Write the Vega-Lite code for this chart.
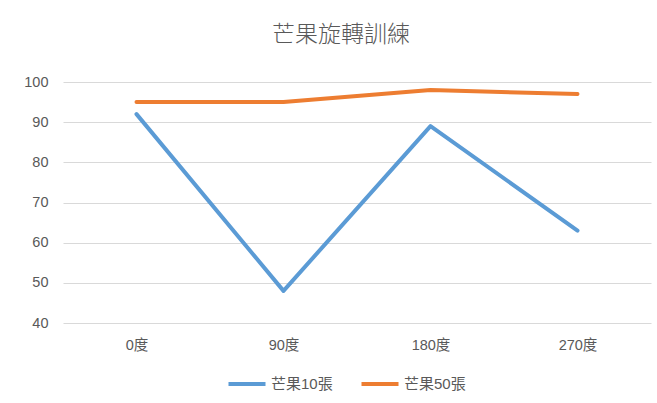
{
  "$schema": "https://vega.github.io/schema/vega-lite/v6.json",
  "width": 588,
  "height": 241,
  "autosize": {"type": "none"},
  "padding": {"left": 63, "top": 82, "right": 6, "bottom": 80},
  "background": "white",
  "title": {
    "text": "芒果旋轉訓練",
    "font": "Noto Sans CJK TC",
    "fontSize": 23,
    "fontWeight": 300,
    "color": "#595959",
    "offset": 27,
    "dx": -16
  },
  "data": {
    "values": [
      {"angle": "0度", "series": "芒果10張", "value": 92},
      {"angle": "90度", "series": "芒果10張", "value": 48},
      {"angle": "180度", "series": "芒果10張", "value": 89},
      {"angle": "270度", "series": "芒果10張", "value": 63},
      {"angle": "0度", "series": "芒果50張", "value": 95},
      {"angle": "90度", "series": "芒果50張", "value": 95},
      {"angle": "180度", "series": "芒果50張", "value": 98},
      {"angle": "270度", "series": "芒果50張", "value": 97}
    ]
  },
  "mark": {"type": "line", "strokeWidth": 4, "strokeCap": "round", "strokeJoin": "round"},
  "encoding": {
    "x": {
      "field": "angle",
      "type": "ordinal",
      "sort": ["0度", "90度", "180度", "270度"],
      "scale": {"type": "point", "padding": 0.5},
      "axis": {
        "title": null,
        "labelAngle": 0,
        "domain": false,
        "ticks": false,
        "grid": false,
        "labelPadding": 15,
        "labelFontSize": 14.5,
        "labelColor": "#595959",
        "labelFont": "Liberation Sans, Noto Sans CJK TC"
      }
    },
    "y": {
      "field": "value",
      "type": "quantitative",
      "scale": {"domain": [40, 100], "nice": false, "zero": false},
      "axis": {
        "title": null,
        "values": [40, 50, 60, 70, 80, 90, 100],
        "domain": false,
        "ticks": false,
        "gridColor": "#d9d9d9",
        "gridWidth": 1,
        "labelPadding": 15,
        "labelFontSize": 14.5,
        "labelColor": "#595959",
        "labelFont": "Liberation Sans, Noto Sans CJK TC"
      }
    },
    "color": {
      "field": "series",
      "type": "nominal",
      "scale": {"domain": ["芒果10張", "芒果50張"], "range": ["#5b9bd5", "#ed7d31"]},
      "legend": {
        "title": null,
        "orient": "none",
        "legendX": 163,
        "legendY": 281,
        "direction": "horizontal",
        "symbolType": "stroke",
        "symbolSize": 1370,
        "symbolStrokeWidth": 4,
        "labelFontSize": 15,
        "labelColor": "#595959",
        "labelFont": "Liberation Sans, Noto Sans CJK TC",
        "columnPadding": 20,
        "labelOffset": 3
      }
    }
  },
  "config": {"view": {"stroke": null}}
}
